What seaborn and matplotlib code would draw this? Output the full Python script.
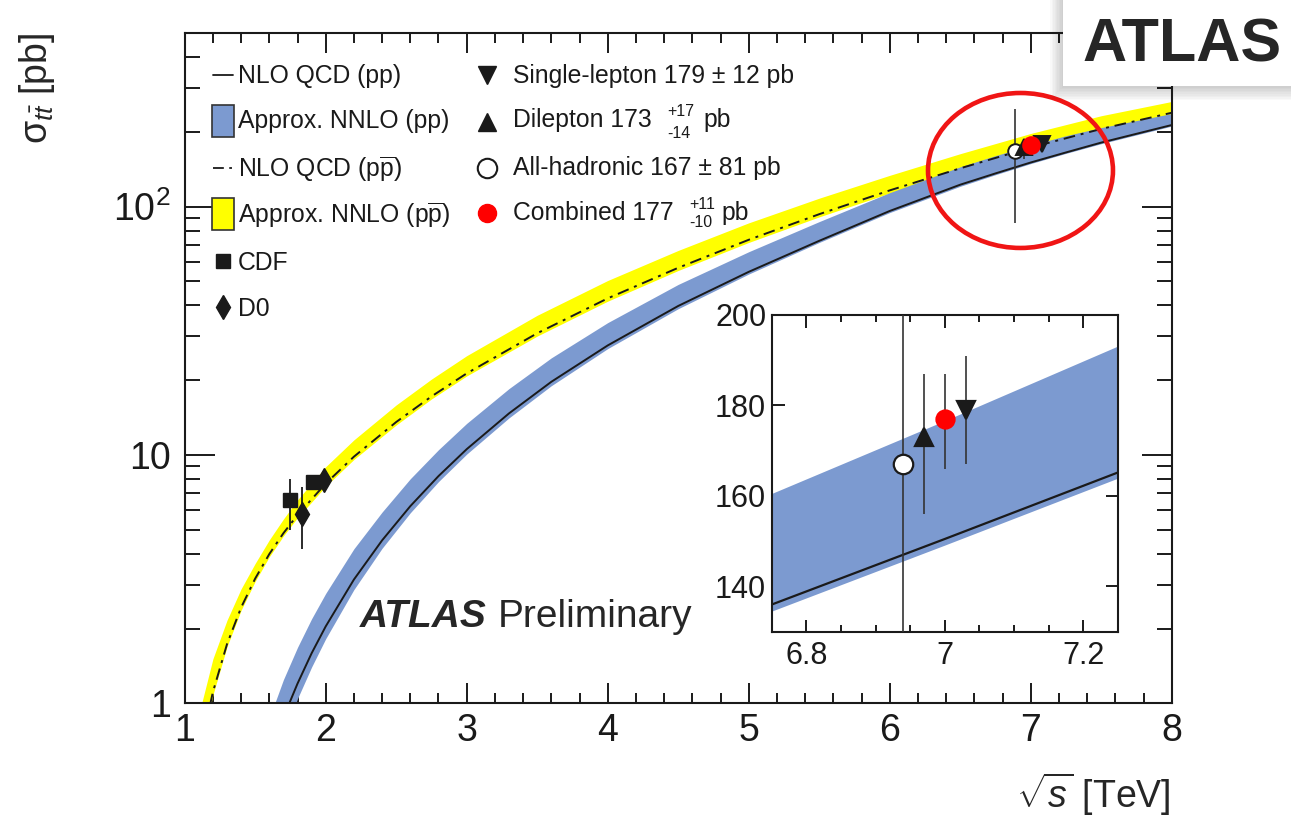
import matplotlib
matplotlib.use("Agg")
import matplotlib.pyplot as plt
import seaborn as sns
from matplotlib.patches import Ellipse, Rectangle
from matplotlib.ticker import (MultipleLocator, FixedLocator, LogLocator,
                               NullFormatter, FuncFormatter, NullLocator)

# ---------------- theory predictions ----------------
# pp collisions (LHC)
sqrt_s_pp = [1.6, 1.7, 1.8, 1.9, 2.0, 2.2, 2.4, 2.6, 2.8, 3.0, 3.3, 3.6, 4.0,
             4.5, 5.0, 5.5, 6.0, 6.5, 6.75, 7.0, 7.25, 7.5, 8.0]
nlo_pp = [0.61, 0.877, 1.20, 1.59, 2.04, 3.15, 4.53, 6.22, 8.22, 10.55, 14.7, 19.7, 27.6,
          39.8, 54.6, 72.8, 96.0, 122.5, 136.0, 150.5, 165.2, 181.0, 213.0]
nnlo_pp_lo = [0.53, 0.763, 1.044, 1.40, 1.82, 2.87, 4.21, 5.85, 7.81, 10.08, 14.1, 19.0, 26.8,
              38.8, 53.5, 71.7, 94.6, 120.7, 134.4, 149.0, 163.8, 179.2, 210.9]
nnlo_pp_hi = [0.87, 1.245, 1.68, 2.19, 2.77, 4.19, 5.89, 8.02, 10.5, 13.4, 18.5, 24.6, 34.1,
              48.6, 65.8, 87.0, 113.8, 144.6, 160.4, 176.5, 193.0, 208.0, 237.0]

# p-pbar collisions (Tevatron)
sqrt_s_ppbar = [1.1, 1.2, 1.3, 1.4, 1.5, 1.6, 1.7, 1.8, 1.9, 2.0, 2.2, 2.5, 2.75,
                3.0, 3.5, 4.0, 4.5, 5.0, 5.5, 6.0, 6.5, 7.0, 7.5, 8.0]
nlo_ppbar = [0.611, 1.11, 1.73, 2.43, 3.18, 3.99, 4.84, 5.73, 6.63, 7.67, 9.84, 13.57, 17.2,
             21.3, 30.9, 42.7, 56.7, 73.5, 93.2, 116.2, 142.6, 172.8, 205.5, 238.7]
nnlo_ppbar_lo = [0.596, 1.08, 1.69, 2.37, 3.10, 3.89, 4.72, 5.59, 6.46, 7.48, 9.59, 13.2, 16.8,
                 20.8, 30.1, 41.6, 55.3, 71.7, 90.9, 113.3, 139.0, 168.5, 200.4, 232.7]
nnlo_ppbar_hi = [0.90, 1.51, 2.16, 2.89, 3.66, 4.55, 5.52, 6.59, 7.69, 8.97, 11.5, 15.9, 20.2,
                 25.1, 36.5, 50.4, 66.6, 86.0, 108.1, 133.6, 163.3, 197.0, 232.2, 265.0]

# ---------------- measurements ----------------
tev_expt = ["CDF", "D0", "CDF", "D0"]
tev_x = [1.75, 1.83, 1.91, 1.99]
tev_sigma = [6.6, 5.8, 7.8, 7.9]
tev_err_lo = [1.6, 1.6, 0.5, 0.5]
tev_err_hi = [1.4, 1.6, 0.5, 0.5]

atlas_channels = ["Single-lepton", "Dilepton", "All-hadronic", "Combined"]
atlas_sigma = [179, 173, 167, 177]
atlas_err_lo = [12, 17, 81, 11]
atlas_err_hi = [12, 14, 81, 10]
atlas_x_main = [7.08, 6.95, 6.89, 7.00]
atlas_x_zoom = [7.03, 6.97, 6.94, 7.00]

# ---------------- style ----------------
sns.set_theme(style="ticks")
plt.rcParams["font.family"] = ["Liberation Sans", "DejaVu Sans"]
plt.rcParams["mathtext.fontset"] = "custom"
plt.rcParams["mathtext.rm"] = "Liberation Sans"
plt.rcParams["mathtext.it"] = "Liberation Sans:italic"
plt.rcParams["mathtext.bf"] = "Liberation Sans:bold"

BLUE = "#7C9AD0"
YELLOW = "#FFFF00"
RED = "#FF0000"
DASHDOT = (0, (6, 3, 1.5, 3))

marker_style = {
    "Single-lepton": dict(marker="v", mfc="k", mec="k"),
    "Dilepton": dict(marker="^", mfc="k", mec="k"),
    "All-hadronic": dict(marker="o", mfc="white", mec="k"),
    "Combined": dict(marker="o", mfc=RED, mec=RED),
}
tev_marker = {"CDF": ("s", 9.5), "D0": ("d", 12)}

W, H = 1291, 818
fig = plt.figure(figsize=(W / 100, H / 100), dpi=100)
fig.patch.set_facecolor("white")

# ---------------- main panel ----------------
ax = fig.add_axes([184.7 / W, 1 - 703.3 / H, 987 / W, 670.3 / H])
ax.set_yscale("log")
ax.fill_between(sqrt_s_ppbar, nnlo_ppbar_lo, nnlo_ppbar_hi, color=YELLOW, lw=0, zorder=1)
ax.fill_between(sqrt_s_pp, nnlo_pp_lo, nnlo_pp_hi, color=BLUE, lw=0, zorder=2)
sns.lineplot(x=sqrt_s_ppbar, y=nlo_ppbar, ax=ax, color="k", lw=1.4,
             linestyle=DASHDOT, zorder=3)
sns.lineplot(x=sqrt_s_pp, y=nlo_pp, ax=ax, color="k", lw=1.4, zorder=3)

for name, x, y, lo, hi in zip(tev_expt, tev_x, tev_sigma, tev_err_lo, tev_err_hi):
    m, ms = tev_marker[name]
    ax.errorbar([x], [y], yerr=[[lo], [hi]], fmt=m, ms=ms, color="k",
                elinewidth=1.3, capsize=0, zorder=5)

main_ms = {"Single-lepton": 11, "Dilepton": 11, "All-hadronic": 10.5, "Combined": 12}
for order in [2, 1, 0, 3]:
    name = atlas_channels[order]
    st = marker_style[name]
    ax.errorbar([atlas_x_main[order]], [atlas_sigma[order]],
                yerr=[[atlas_err_lo[order]], [atlas_err_hi[order]]],
                fmt=st["marker"], ms=main_ms[name], mfc=st["mfc"], mec=st["mec"],
                mew=1.4, ecolor="#333333", elinewidth=1.2, capsize=0, zorder=6)

ax.set_xlim(1, 8)
ax.set_ylim(1, 500)
ax.xaxis.set_major_locator(MultipleLocator(1))
ax.xaxis.set_minor_locator(MultipleLocator(0.2))
ax.xaxis.set_major_formatter(FuncFormatter(lambda v, p: f"{v:g}"))
ax.yaxis.set_major_locator(FixedLocator([1, 10, 100]))
ax.yaxis.set_major_formatter(FuncFormatter(
    lambda v, p: {1: "1", 10: "10", 100: r"$10^2$"}.get(int(round(v)), "")))
ax.yaxis.set_minor_locator(LogLocator(base=10, subs=range(2, 10)))
ax.yaxis.set_minor_formatter(NullFormatter())
ax.tick_params(which="both", direction="in", top=True, right=True, width=1.4,
               colors="k", labelsize=27)
ax.tick_params(axis="x", which="major", length=14.4, pad=7)
ax.tick_params(axis="x", which="minor", length=7.2)
ax.tick_params(axis="y", which="major", length=21.6, pad=10)
ax.tick_params(axis="y", which="minor", length=10.8)
for sp in ax.spines.values():
    sp.set_linewidth(1.5)
    sp.set_color("k")
ax.set_xlabel("")
ax.set_ylabel("")

ax.add_patch(Ellipse((0.8468, 0.7949), 0.1874, 0.2312, transform=ax.transAxes,
                     fill=False, ec="#F01515", lw=3.3, clip_on=False, zorder=8))

# ---------------- zoomed panel around 7 TeV ----------------
axin = fig.add_axes([771.7 / W, 1 - 631.7 / H, 346.3 / W, 316.7 / H])
axin.set_facecolor("white")
axin.fill_between(sqrt_s_pp, nnlo_pp_lo, nnlo_pp_hi, color=BLUE, lw=0, zorder=1)
sns.lineplot(x=sqrt_s_pp, y=nlo_pp, ax=axin, color="k", lw=1.6, zorder=2)

zoom_ms = {"Single-lepton": 13.5, "Dilepton": 13.5, "All-hadronic": 14, "Combined": 13}
for order in [2, 1, 0, 3]:
    name = atlas_channels[order]
    st = marker_style[name]
    axin.errorbar([atlas_x_zoom[order]], [atlas_sigma[order]],
                  yerr=[[atlas_err_lo[order]], [atlas_err_hi[order]]],
                  fmt=st["marker"], ms=zoom_ms[name], mfc=st["mfc"], mec=st["mec"],
                  mew=1.6, ecolor="#333333", elinewidth=1.2, capsize=0, zorder=5)

axin.set_xlim(6.75, 7.25)
axin.set_ylim(130, 200)
axin.xaxis.set_major_locator(MultipleLocator(0.2))
axin.xaxis.set_minor_locator(MultipleLocator(0.05))
axin.xaxis.set_major_formatter(FuncFormatter(lambda v, p: f"{v:g}"))
axin.yaxis.set_major_locator(MultipleLocator(20))
axin.yaxis.set_minor_locator(NullLocator())
axin.tick_params(which="both", direction="in", top=True, right=True, width=1.4,
                 colors="k", labelsize=22)
axin.tick_params(which="major", length=9)
axin.tick_params(which="minor", length=5)
axin.tick_params(axis="x", pad=7)
axin.tick_params(axis="y", pad=4)
for sp in axin.spines.values():
    sp.set_linewidth(1.5)
    sp.set_color("k")
axin.set_xlabel("")
axin.set_ylabel("")

# ---------------- overlay: legend, labels, banner ----------------
oax = fig.add_axes([0, 0, 1, 1], zorder=10)
oax.set_xlim(0, W)
oax.set_ylim(H, 0)
oax.axis("off")

L = dict(fontsize=17.8, va="baseline", ha="left", color="k")
S = dict(fontsize=11.5, va="baseline", ha="left", color="k")

oax.plot([213, 233], [75, 75], color="k", lw=1.3)
oax.text(238, 83, "NLO QCD (pp)", **L)
oax.add_patch(Rectangle((212, 105), 22, 32, fc=BLUE, ec="#333333", lw=1.2))
oax.text(238, 128, "Approx. NNLO (pp)", **L)
oax.plot([213, 233], [168, 168], color="k", lw=1.3, linestyle=DASHDOT)
oax.text(238, 176.5, r"NLO QCD (p$\overline{\mathrm{p}}$)", **L)
oax.add_patch(Rectangle((212, 198), 22, 32, fc=YELLOW, ec="#333333", lw=1.2))
oax.text(238, 223, r"Approx. NNLO (p$\overline{\mathrm{p}}$)", **L)
oax.plot([223], [261], marker="s", ms=9.5, color="k")
oax.text(238, 270, "CDF", **L)
oax.plot([223], [307], marker="d", ms=12, color="k")
oax.text(238, 316.5, "D0", **L)

oax.plot([487], [75], marker="v", ms=13, color="k")
oax.text(513, 83, "Single-lepton 179 ± 12 pb", **L)
oax.plot([487], [122], marker="^", ms=13, color="k")
oax.text(513, 126.7, "Dilepton 173", **L)
oax.text(667, 116, "+17", **S)
oax.text(667, 138, "-14", **S)
oax.text(703, 126.7, "pb", **L)
oax.plot([487], [168], marker="o", ms=14, mfc="white", mec="k", mew=1.5)
oax.text(513, 175, "All-hadronic 167 ± 81 pb", **L)
oax.plot([487], [213], marker="o", ms=13, color=RED)
oax.text(513, 220, "Combined 177", **L)
oax.text(689, 209, "+11", **S)
oax.text(689, 227, "-10", **S)
oax.text(721, 220, "pb", **L)

oax.text(360, 627, "ATLAS", fontsize=28, fontweight="bold", fontstyle="italic",
         va="baseline", ha="left")
oax.text(498, 627, "Preliminary", fontsize=28, va="baseline", ha="left")

oax.text(37, 33, r"σ$_{t\bar{t}}$ [pb]", fontsize=27, rotation=90,
         ha="center", va="top")
oax.text(1171, 808, r"$\sqrt{s}$ [TeV]", fontsize=27, ha="right", va="baseline")

# banner with a soft drop shadow
for i in range(10):
    oax.add_patch(Rectangle((1063 - 1.4 * i, -2), 240 + 1.4 * i, 88 + 1.6 * i,
                            fc="k", ec="none", alpha=0.022))
oax.add_patch(Rectangle((1063, -2), 240, 88, fc="white", ec="none"))
oax.text(1182, 62, "ATLAS", fontsize=44, fontweight="bold", ha="center",
         va="baseline")

fig.savefig("out.png", dpi=100, facecolor="white")
